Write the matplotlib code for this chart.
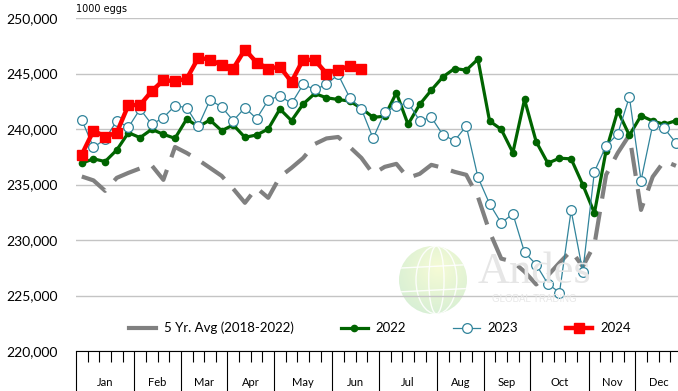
import numpy as np
import matplotlib
matplotlib.use("Agg")
import matplotlib.pyplot as plt
from matplotlib.lines import Line2D
from matplotlib.patches import Circle, Ellipse
from matplotlib.colors import LinearSegmentedColormap
from matplotlib.ticker import FuncFormatter, FixedLocator

# ---- data (weekly egg sets, 1000 eggs) ----
months = ["Jan", "Feb", "Mar", "Apr", "May", "Jun",
          "Jul", "Aug", "Sep", "Oct", "Nov", "Dec"]
weeks_per_month = [5, 4, 4, 4, 5, 4, 5, 4, 4, 5, 4, 4]

avg_5yr = [235720, 235370, 234430, 235600, 236050, 236450, 236720, 235420, 238380, 237840,
           237210, 236500, 235780, 234610, 233350, 234700, 233800, 235690, 236500, 237390,
           238650, 239150, 239280, 238380, 237390, 235960, 236590, 236860, 235600, 235960,
           236770, 236500, 236140, 235870, 233890, 230750, 228320, 228050, 227150, 226000,
           226800, 227950, 229040, 227600, 229580, 235870, 237840, 239460, 232710, 235690,
           237120, 236680]

y2022 = [236920, 237310, 237070, 238110, 239670, 239220, 239970, 239520, 239160, 240900,
         240210, 240810, 239850, 240360, 239250, 239460, 240000, 241800, 240750, 242250,
         243200, 242810, 242660, 242510, 241860, 241050, 241150, 243260, 240420, 242210,
         243500, 244700, 245450, 245300, 246290, 240720, 239970, 237870, 242660, 238860,
         236920, 237370, 237310, 234980, 232430, 238050, 241650, 239430, 241200, 240720,
         240420, 240750]

y2023 = [240810, 238350, 239070, 240750, 240150, 241800, 240420, 241020, 242100, 241920,
         240270, 242600, 242000, 240750, 241920, 240930, 242600, 242990, 242300, 244010,
         243560, 244010, 244910, 242810, 241800, 239160, 241500, 242070, 242370, 240750,
         241050, 239460, 238950, 240270, 235660, 233260, 231530, 232360, 228890, 227790,
         226050, 225270, 232660, 227150, 236160, 238480, 239550, 242900, 235360, 240360,
         240060, 238740]

y2024 = [237700, 239850, 239310, 239670, 242160, 242160, 243410, 244400, 244310, 244520,
         246410, 246260, 245750, 245450, 247160, 245990, 245450, 245600, 244250, 246260,
         246200, 245000, 245360, 245660, 245450]

y_ticks = [220000, 225000, 230000, 235000, 240000, 245000, 250000]

# ---- styling ----
GRAY = "#808080"
GREEN = "#006400"
BLUE = "#31849b"
RED = "#ff0000"
BASE_FONT = ["Lato", "DejaVu Sans"]

W, H = 678, 391
fig = plt.figure(figsize=(W / 100, H / 100), dpi=100)

# ---- faint globe logo (own small axes, drawn first so it sits underneath) ----
gcx, gcy, gr = 433, 280, 34
gax = fig.add_axes([(gcx - gr) / W, 1 - (gcy + gr) / H, 2 * gr / W, 2 * gr / H])
gax.set_xlim(-1, 1)
gax.set_ylim(-1, 1)
gax.axis("off")
yy, xx = np.mgrid[-1:1:200j, -1:1:200j]
dist = np.sqrt((xx - 0.15) ** 2 + (yy - 0.35) ** 2)
glow = LinearSegmentedColormap.from_list("glow", ["#f6fbd6", "#e4f4d4", "#d4eed6"])
img = gax.imshow(dist, cmap=glow, extent=(-1, 1, -1, 1), origin="lower",
                 vmin=0, vmax=1.6, interpolation="bilinear")
clip = Circle((0, 0), 1.0, transform=gax.transData)
img.set_clip_path(clip)
for w in (1.2, 0.45):
    e = Ellipse((0.1, 0), w, 2.0, fill=False, ec="white", lw=1.0, alpha=0.9)
    gax.add_patch(e)
    e.set_clip_path(clip)
for h in (0.35, -0.35):
    ln, = gax.plot([-1, 1], [h, h + 0.1], color="white", lw=1.0, alpha=0.9)
    ln.set_clip_path(clip)

fig.text(534 / W, 1 - 283 / H, "Andes", family="Liberation Serif",
         fontsize=32, color="#e6e6e6", ha="center", va="baseline")
fig.text(534 / W, 1 - 299 / H, "GLOBAL TRADING", family="Liberation Sans",
         fontsize=7, color="#e8e8e8", ha="center", va="center")

# ---- main chart ----
ax_left, ax_right, ax_top, ax_bottom = 76, 681.8, 18, 351
ax = fig.add_axes([ax_left / W, 1 - ax_bottom / H,
                   (ax_right - ax_left) / W, (ax_bottom - ax_top) / H])
ax.patch.set_alpha(0)

n_weeks = sum(weeks_per_month)
x = np.arange(n_weeks)

ax.plot(x, avg_5yr, color=GRAY, lw=3, dashes=(6.8, 3.2),
        solid_capstyle="butt", dash_capstyle="butt", zorder=2)
ax.plot(x, y2022, color=GREEN, lw=2.3, marker="o", ms=4.5,
        mfc=GREEN, mec=GREEN, zorder=3)
ax.plot(x, y2023, color=BLUE, lw=0.9, marker="o", ms=7,
        mfc="white", mec=BLUE, mew=0.9, zorder=4)
ax.plot(x[:len(y2024)], y2024, color=RED, lw=3.2, marker="s", ms=6.5,
        mfc=RED, mec=RED, zorder=5)

# axes ranges and grid
ax.set_xlim(-0.5, n_weeks - 0.5)
ax.set_ylim(y_ticks[0], y_ticks[-1])
ax.set_yticks(y_ticks)
ax.yaxis.set_major_formatter(FuncFormatter(lambda v, p: f"{int(v):,}"))
ax.yaxis.grid(True, color="#c4c4c4", lw=1.0)
ax.set_axisbelow(True)
ax.tick_params(axis="y", length=0, pad=13, labelsize=10)
for lab in ax.get_yticklabels():
    lab.set_family(BASE_FONT)

for side in ("left", "right", "top"):
    ax.spines[side].set_visible(False)
ax.spines["bottom"].set_color("black")
ax.spines["bottom"].set_linewidth(0.8)
ax.spines["bottom"].set_zorder(6)

# week ticks (short) and month boundary ticks (long)
bounds = np.concatenate([[0], np.cumsum(weeks_per_month)])
month_edges = bounds - 0.5
week_edges = [w - 0.5 for w in range(n_weeks + 1) if w not in set(bounds)]
ax.xaxis.set_major_locator(FixedLocator(month_edges))
ax.xaxis.set_minor_locator(FixedLocator(week_edges))
ax.tick_params(axis="x", which="major", direction="out", length=31,
               width=0.8, color="black", labelbottom=False)
ax.tick_params(axis="x", which="minor", direction="out", length=8,
               width=0.8, color="black")

# month names centred within each month span
centers = (bounds[:-1] + bounds[1:]) / 2 - 0.5
for c, m in zip(centers, months):
    ax.annotate(m, xy=(c, 0), xycoords=("data", "axes fraction"),
                xytext=(0, -23), textcoords="offset points",
                ha="center", va="center", fontsize=8, family=BASE_FONT)

# unit label
ax.annotate("1000 eggs", xy=(0, 1), xycoords="axes fraction",
            xytext=(0, 3), textcoords="offset points",
            ha="left", va="bottom", fontsize=7, family="DejaVu Sans")

# legend
handles = [
    Line2D([], [], color=GRAY, lw=3),
    Line2D([], [], color=GREEN, lw=2.3, marker="o", ms=4.5, mfc=GREEN, mec=GREEN),
    Line2D([], [], color=BLUE, lw=0.9, marker="o", ms=7, mfc="white", mec=BLUE, mew=0.9),
    Line2D([], [], color=RED, lw=3.2, marker="s", ms=6.5, mfc=RED, mec=RED),
]
labels = ["5 Yr. Avg (2018-2022)", "2022", "2023", "2024"]
leg = ax.legend(handles, labels, loc="center", bbox_to_anchor=(0.502, 0.069),
                ncol=4, frameon=False, handlelength=2.0, handletextpad=0.6,
                columnspacing=3.6, prop={"family": BASE_FONT, "size": 9.5})
leg.set_zorder(7)

fig.savefig("out.png", dpi=100)
